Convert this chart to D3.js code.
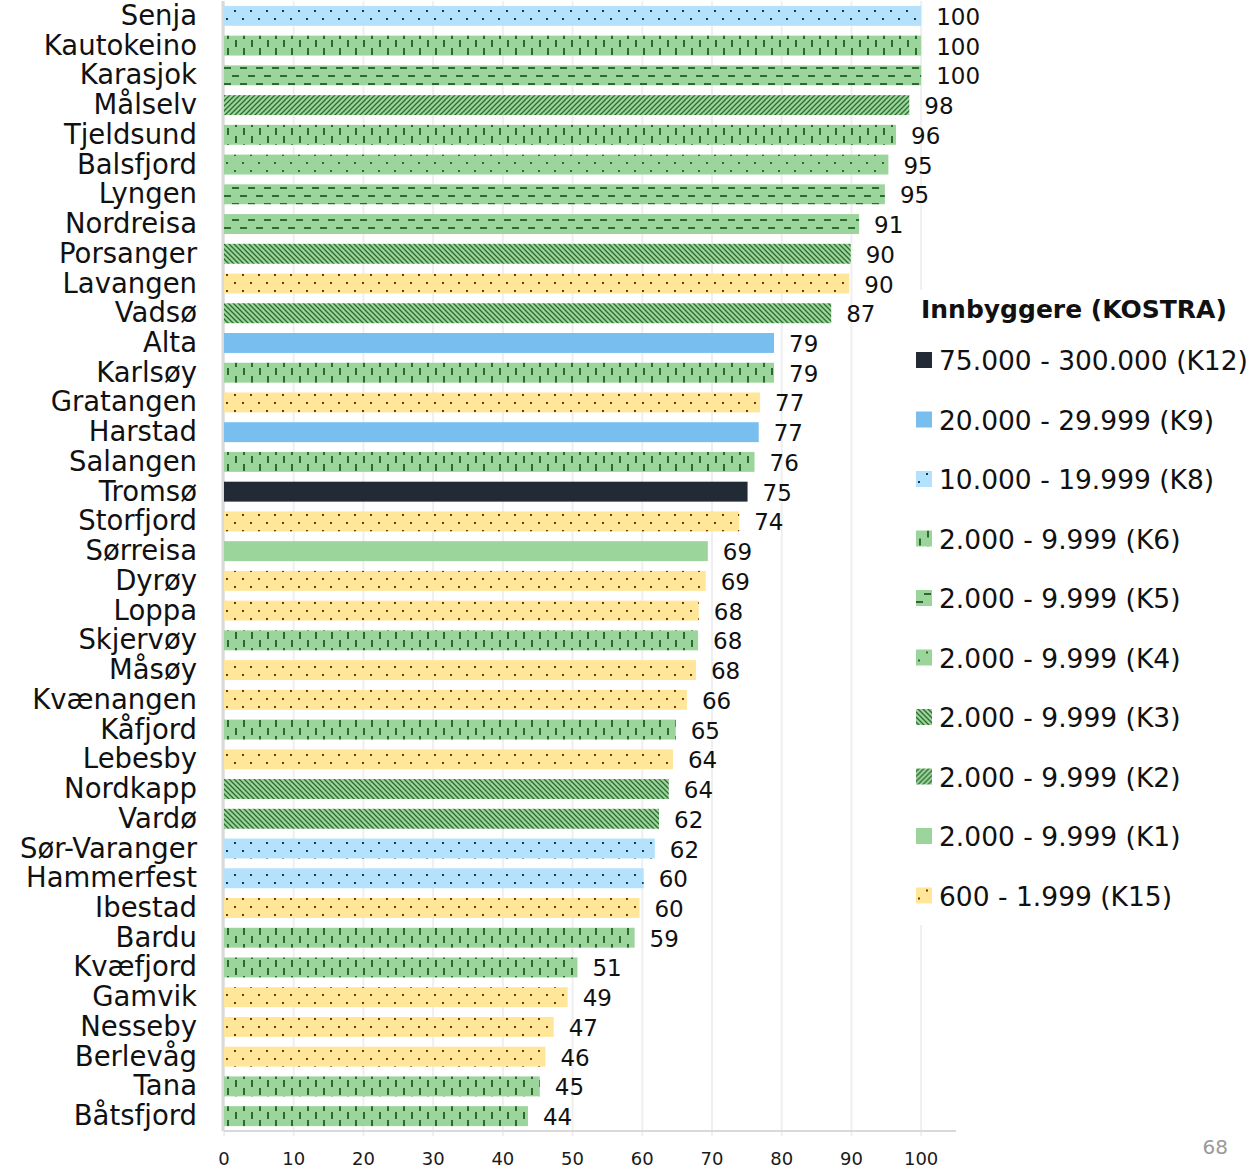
<!DOCTYPE html>
<html>
<head>
<meta charset="utf-8">
<script src="https://cdn.jsdelivr.net/npm/d3@7"></script>
<style>
  html, body { margin: 0; padding: 0; background: #fff; }
  svg { display: block; font-family: "DejaVu Sans", sans-serif; }
</style>
</head>
<body>
<svg id="chart" width="1258" height="1169"></svg>
<script>
// ---- Data ----
const categories = ["Senja","Kautokeino","Karasjok","Målselv","Tjeldsund","Balsfjord","Lyngen","Nordreisa","Porsanger","Lavangen","Vadsø","Alta","Karlsøy","Gratangen","Harstad","Salangen","Tromsø","Storfjord","Sørreisa","Dyrøy","Loppa","Skjervøy","Måsøy","Kvænangen","Kåfjord","Lebesby","Nordkapp","Vardø","Sør-Varanger","Hammerfest","Ibestad","Bardu","Kvæfjord","Gamvik","Nesseby","Berlevåg","Tana","Båtsfjord"];
const values = [100,100,100,98.3,96.4,95.3,94.8,91.1,89.9,89.7,87.1,78.9,78.9,76.9,76.7,76.1,75.1,73.9,69.4,69.1,68.1,68.0,67.7,66.4,64.8,64.4,63.8,62.4,61.8,60.2,59.6,58.9,50.7,49.3,47.3,46.1,45.3,43.6];
const groups = ["K8","K6","K5","K2","K6","K4","K5","K5","K3","K15","K3","K9","K6","K15","K9","K6","K12","K15","K1","K15","K15","K6","K15","K15","K6","K15","K3","K3","K8","K8","K15","K6","K6","K15","K15","K15","K6","K6"];
const legendKeys = ["K12","K9","K8","K6","K5","K4","K3","K2","K1","K15"];
const legendLabels = ["75.000 - 300.000 (K12)","20.000 - 29.999 (K9)","10.000 - 19.999 (K8)","2.000 - 9.999 (K6)","2.000 - 9.999 (K5)","2.000 - 9.999 (K4)","2.000 - 9.999 (K3)","2.000 - 9.999 (K2)","2.000 - 9.999 (K1)","600 - 1.999 (K15)"];
const legendTitle = "Innbyggere (KOSTRA)";
const xTicks = [0,10,20,30,40,50,60,70,80,90,100];
const pageNumber = "68";

// ---- Setup ----
const svg = d3.select("#chart");
const pLeft = 224, pRight = 956, pTop = 1, pBottom = 1131;

const x = d3.scaleLinear().domain([0, 105]).range([pLeft, pRight]);
const y = d3.scaleBand().domain(categories).range([pTop, pBottom]).paddingInner(0.33).paddingOuter(0.165);

const green = "#9bd59b", dgreen = "#2d6a2f";
const defs = svg.append("defs");
function pat(id, w, h, bg, draw) {
  const p = defs.append("pattern").attr("id", id).attr("patternUnits", "userSpaceOnUse")
    .attr("width", w).attr("height", h);
  p.append("rect").attr("width", w).attr("height", h).attr("fill", bg);
  draw(p);
}
// K8: light blue, navy dots
pat("pK8", 16, 16, "#b4e1fc", p => {
  p.append("rect").attr("x", 2).attr("y", 2).attr("width", 2).attr("height", 2).attr("fill", "#0e3a5c");
  p.append("rect").attr("x", 10).attr("y", 10).attr("width", 2).attr("height", 2).attr("fill", "#0e3a5c");
});
// K15: yellow, brown dots
pat("pK15", 16, 16, "#ffe699", p => {
  p.append("rect").attr("x", 2).attr("y", 2).attr("width", 2).attr("height", 2).attr("fill", "#7a3600");
  p.append("rect").attr("x", 10).attr("y", 10).attr("width", 2).attr("height", 2).attr("fill", "#7a3600");
});
// K4: green sparse dots
pat("pK4", 16, 16, green, p => {
  p.append("rect").attr("x", 2).attr("y", 2).attr("width", 2).attr("height", 2).attr("fill", dgreen);
  p.append("rect").attr("x", 10).attr("y", 10).attr("width", 2).attr("height", 2).attr("fill", dgreen);
});
// K6: vertical dashes
pat("pK6", 16, 16, green, p => {
  p.append("rect").attr("x", 3).attr("y", 0).attr("width", 2).attr("height", 7).attr("fill", dgreen);
  p.append("rect").attr("x", 11).attr("y", 8).attr("width", 2).attr("height", 7).attr("fill", dgreen);
});
// K5: horizontal dashes
pat("pK5", 16, 16, green, p => {
  p.append("rect").attr("x", 0).attr("y", 3).attr("width", 7).attr("height", 2).attr("fill", dgreen);
  p.append("rect").attr("x", 8).attr("y", 11).attr("width", 7).attr("height", 2).attr("fill", dgreen);
});
// K3: diagonal down-right
pat("pK3", 5, 5, green, p => {
  p.append("path").attr("d", "M-1,-1 L6,6 M-1,4 L1,6 M4,-1 L6,1").attr("stroke", dgreen).attr("stroke-width", 1.3);
});
// K2: diagonal up-right
pat("pK2", 5, 5, green, p => {
  p.append("path").attr("d", "M-1,6 L6,-1 M-1,1 L1,-1 M4,6 L6,4").attr("stroke", dgreen).attr("stroke-width", 1.3);
});

const fills = {K12: "#222a35", K9: "#78bff0", K8: "url(#pK8)", K6: "url(#pK6)", K5: "url(#pK5)",
  K4: "url(#pK4)", K3: "url(#pK3)", K2: "url(#pK2)", K1: green, K15: "url(#pK15)"};

// ---- Grid ----
svg.append("g").selectAll("line").data(xTicks).join("line")
  .attr("x1", d => x(d)).attr("x2", d => x(d))
  .attr("y1", pTop).attr("y2", pBottom + 5)
  .attr("stroke", "#efefef").attr("stroke-width", 2);

// axis line
svg.append("line").attr("x1", pLeft).attr("x2", pRight).attr("y1", pBottom).attr("y2", pBottom)
  .attr("stroke", "#d9d9d9").attr("stroke-width", 2);
svg.append("line").attr("x1", pLeft - 1).attr("x2", pLeft - 1).attr("y1", pTop).attr("y2", pBottom)
  .attr("stroke", "#d9d9d9").attr("stroke-width", 3);

// tick labels
svg.append("g").selectAll("text").data(xTicks).join("text")
  .attr("x", d => x(d)).attr("y", 1165)
  .attr("text-anchor", "middle").attr("font-size", 18).attr("fill", "#1a1a1a")
  .text(d => d);

// ---- Bars ----
const data = categories.map((c, i) => ({c, v: values[i], g: groups[i]}));
svg.append("g").selectAll("rect").data(data).join("rect")
  .attr("x", x(0)).attr("y", d => y(d.c))
  .attr("width", d => x(d.v) - x(0)).attr("height", y.bandwidth())
  .attr("fill", d => fills[d.g]);

// category labels
svg.append("g").selectAll("text").data(data).join("text")
  .attr("x", 197).attr("y", d => y(d.c) + y.bandwidth() / 2 + 9)
  .attr("text-anchor", "end").attr("font-size", 27.5).attr("fill", "#111")
  .text(d => d.c);

// value labels
svg.append("g").selectAll("text").data(data).join("text")
  .attr("x", d => x(d.v) + 15).attr("y", d => y(d.c) + y.bandwidth() / 2 + 9)
  .attr("font-size", 23).attr("fill", "#111")
  .text(d => d3.format(".0f")(d.v));

// ---- Legend ----
const lg = svg.append("g");
lg.append("rect").attr("x", 908).attr("y", 290).attr("width", 350).attr("height", 635).attr("fill", "#fff");
lg.append("text").attr("x", 921).attr("y", 318).attr("font-size", 25).attr("font-weight", "bold")
  .attr("fill", "#111").text(legendTitle);
const items = lg.selectAll("g.item").data(legendKeys).join("g").attr("class", "item")
  .attr("transform", (d, i) => `translate(916, ${360 + i * 59.5})`);
items.append("rect").attr("x", 0).attr("y", -8).attr("width", 16).attr("height", 16)
  .attr("fill", d => fills[d]);
items.append("text").attr("x", 23).attr("y", 10).attr("font-size", 26.5).attr("fill", "#111")
  .text((d, i) => legendLabels[i]);

// page number
svg.append("text").attr("x", 1228).attr("y", 1154).attr("text-anchor", "end")
  .attr("font-size", 20).attr("fill", "#9a9a9a").text(pageNumber);
</script>
</body>
</html>
